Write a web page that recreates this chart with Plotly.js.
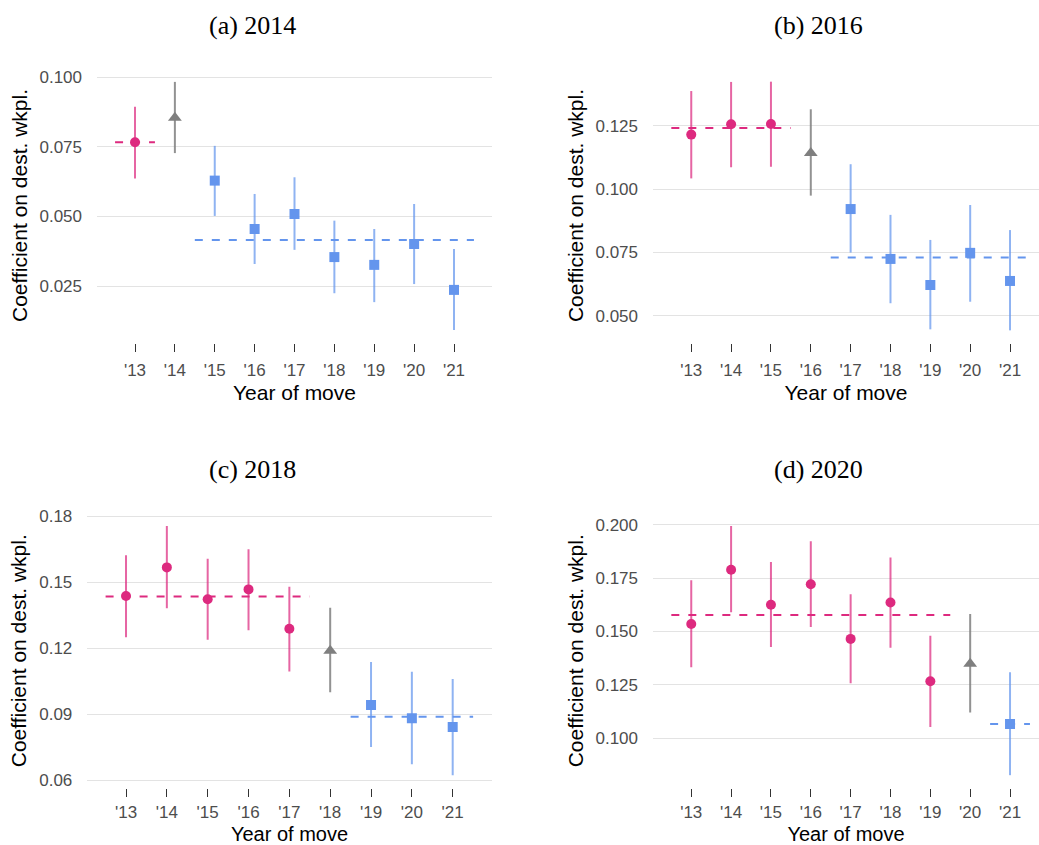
<!DOCTYPE html>
<html>
<head>
<meta charset="utf-8">
<script src="https://cdn.plot.ly/plotly-3.0.1.min.js"></script>
<style>
  html, body { margin: 0; padding: 0; background: #fff; }
  #chart { width: 1039px; height: 845px; }
</style>
</head>
<body>
<div id="chart"></div>
<script>
// Year-of-move labels shared by every panel
const yearLabels = ["'13", "'14", "'15", "'16", "'17", "'18", "'19", "'20", "'21"];

// Panel titles and the index of the reference (event) year in each panel
const panelTitles = ["(a) 2014", "(b) 2016", "(c) 2018", "(d) 2020"];
const eventIndex = [1, 3, 5, 7];

// (a) 2014
const estA = [0.0767, 0.0855, 0.0629, 0.0455, 0.0509, 0.0354, 0.0326, 0.0401, 0.0236];
const loA  = [0.0637, 0.0728, 0.0502, 0.0329, 0.0380, 0.0224, 0.0192, 0.0257, 0.0092];
const hiA  = [0.0895, 0.0984, 0.0754, 0.0581, 0.0641, 0.0485, 0.0455, 0.0545, 0.0383];
const preMeanA = 0.0767, postMeanA = 0.0415;

// (b) 2016
const estB = [0.1215, 0.1256, 0.1257, 0.1142, 0.0921, 0.0724, 0.0621, 0.0748, 0.0637];
const loB  = [0.1042, 0.1086, 0.1088, 0.0974, 0.0749, 0.0549, 0.0446, 0.0555, 0.0442];
const hiB  = [0.1387, 0.1423, 0.1424, 0.1315, 0.1098, 0.0898, 0.0799, 0.0937, 0.0838];
const preMeanB = 0.1241, postMeanB = 0.0730;

// (c) 2018
const estC = [0.1438, 0.1568, 0.1423, 0.1468, 0.1289, 0.1189, 0.0942, 0.0882, 0.0842];
const loC  = [0.1250, 0.1382, 0.1239, 0.1282, 0.1095, 0.1000, 0.0751, 0.0673, 0.0623];
const hiC  = [0.1623, 0.1756, 0.1607, 0.1651, 0.1480, 0.1385, 0.1138, 0.1094, 0.1060];
const preMeanC = 0.1436, postMeanC = 0.0889;

// (d) 2020
const estD = [0.1535, 0.1789, 0.1625, 0.1721, 0.1465, 0.1635, 0.1267, 0.1349, 0.1067];
const loD  = [0.1332, 0.1590, 0.1427, 0.1521, 0.1257, 0.1424, 0.1053, 0.1120, 0.0827];
const hiD  = [0.1740, 0.1994, 0.1825, 0.1922, 0.1674, 0.1846, 0.1480, 0.1582, 0.1309];
const preMeanD = 0.1577, postMeanD = 0.1067;

const panels = [
  {est: estA, lo: loA, hi: hiA, pre: preMeanA, post: postMeanA},
  {est: estB, lo: loB, hi: hiB, pre: preMeanB, post: postMeanB},
  {est: estC, lo: loC, hi: hiC, pre: preMeanC, post: postMeanC},
  {est: estD, lo: loD, hi: hiD, pre: preMeanD, post: postMeanD}
];

// Styling
const W = 1039, H = 845;
const PINK = '#DD2A7F', PINK_BAR = 'rgba(221,42,127,0.72)';
const BLUE = '#6495ED', BLUE_BAR = 'rgba(100,149,237,0.72)';
const GREY = '#7F7F7F', GREY_BAR = 'rgba(127,127,127,0.85)';

// Pixel frames of each plotting panel: [left, right, top, bottom]
const frames = [
  [97, 492, 68, 343],
  [653, 1039, 68, 343],
  [87.3, 491.7, 513.5, 788],
  [653, 1039, 513.5, 788]
];
const xRanges = [[-0.953, 8.953], [-0.96, 8.727], [-0.948, 8.955], [-0.96, 8.727]];
const yRanges = [[0.0045, 0.1034], [0.0392, 0.1478], [0.0565, 0.1813], [0.0767, 0.2052]];
const yTicks = [
  {tick0: 0.025, dtick: 0.025, fmt: '.3f'},
  {tick0: 0.05, dtick: 0.025, fmt: '.3f'},
  {tick0: 0.06, dtick: 0.03, fmt: '.2f'},
  {tick0: 0.1, dtick: 0.025, fmt: '.3f'}
];
const titlePos = [[252, 25], [818, 25], [252, 470], [818, 470]];

const idx = yearLabels.map((_, i) => i);
const traces = [];
const layout = {
  width: W, height: H,
  margin: {l: 0, r: 0, t: 0, b: 0},
  paper_bgcolor: '#fff', plot_bgcolor: '#fff',
  showlegend: false,
  font: {family: 'Liberation Sans, Arial, sans-serif', color: '#000'},
  annotations: []
};

panels.forEach((p, k) => {
  const ax = k === 0 ? '' : String(k + 1);
  const xa = 'x' + ax, ya = 'y' + ax;
  const ev = eventIndex[k];
  const bottomRow = k >= 2;

  const groups = [
    {ids: idx.filter(i => i < ev), sym: 'circle', size: 10, col: PINK, bar: PINK_BAR},
    {ids: [ev], sym: 'triangle-up', size: 12, col: GREY, bar: GREY_BAR},
    {ids: idx.filter(i => i > ev), sym: 'square', size: 10, col: BLUE, bar: BLUE_BAR}
  ];

  // pooled pre- and post-period estimates as dashed reference lines
  const preIds = groups[0].ids, postIds = groups[2].ids;
  traces.push({
    type: 'scatter', mode: 'lines', xaxis: xa, yaxis: ya, hoverinfo: 'skip',
    x: [preIds[0] - 0.5, preIds[preIds.length - 1] + 0.5], y: [p.pre, p.pre],
    line: {color: PINK, width: 2, dash: '8px,9px'}
  });
  traces.push({
    type: 'scatter', mode: 'lines', xaxis: xa, yaxis: ya, hoverinfo: 'skip',
    x: [postIds[0] - 0.5, postIds[postIds.length - 1] + 0.5], y: [p.post, p.post],
    line: {color: BLUE, width: 2, dash: '8px,9px'}
  });

  groups.forEach(g => {
    traces.push({
      type: 'scatter', mode: 'markers', xaxis: xa, yaxis: ya,
      x: g.ids,
      y: g.ids.map(i => p.est[i]),
      error_y: {
        type: 'data', symmetric: false,
        array: g.ids.map(i => p.hi[i] - p.est[i]),
        arrayminus: g.ids.map(i => p.est[i] - p.lo[i]),
        color: g.bar, thickness: 2, width: 0
      },
      marker: {symbol: g.sym, size: g.size, color: g.col, line: {width: 0}}
    });
  });

  const [l, r, t, b] = frames[k];
  layout['xaxis' + ax] = {
    domain: [l / W, r / W], range: xRanges[k], anchor: ya,
    tickmode: 'array', tickvals: idx, ticktext: yearLabels,
    ticks: 'outside', ticklen: 8, tickwidth: 1, tickcolor: '#333',
    ticklabelstandoff: bottomRow ? 1 : 4,
    showgrid: false, zeroline: false, showline: false,
    tickfont: {size: 17, color: '#4d4d4d'},
    title: {text: 'Year of move', font: {size: bottomRow ? 20 : 21, color: '#000'}, standoff: 5},
    fixedrange: true
  };
  layout['yaxis' + ax] = {
    domain: [1 - b / H, 1 - t / H], range: yRanges[k], anchor: xa,
    tick0: yTicks[k].tick0, dtick: yTicks[k].dtick, tickformat: yTicks[k].fmt,
    ticks: '', showgrid: true, gridcolor: '#e3e3e3', gridwidth: 1,
    zeroline: false, showline: false, ticklabelstandoff: 14,
    tickfont: {size: 17, color: '#4d4d4d'},
    title: {text: 'Coefficient on dest. wkpl.', font: {size: 21, color: '#000'}, standoff: 6},
    fixedrange: true
  };

  layout.annotations.push({
    text: panelTitles[k], xref: 'paper', yref: 'paper',
    x: titlePos[k][0] / W, y: 1 - titlePos[k][1] / H,
    xanchor: 'center', yanchor: 'middle', showarrow: false,
    font: {family: 'Liberation Serif, Times New Roman, serif', size: 26, color: '#000'}
  });
});

Plotly.newPlot('chart', traces, layout, {staticPlot: true, displayModeBar: false});
</script>
</body>
</html>
